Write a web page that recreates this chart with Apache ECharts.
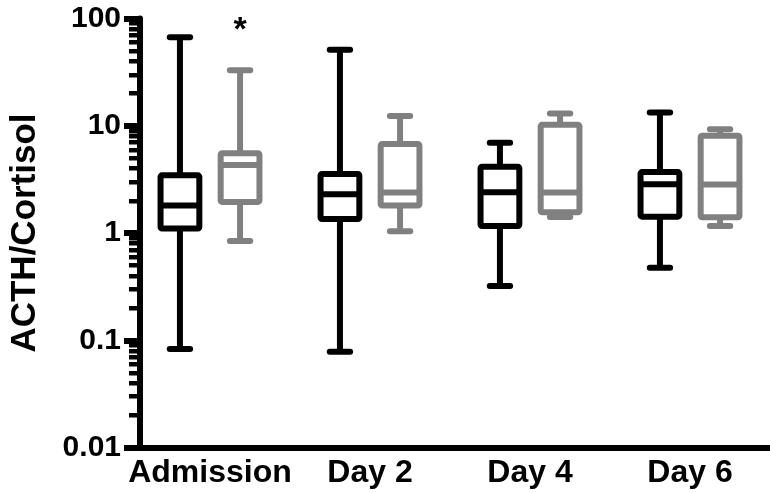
<!DOCTYPE html>
<html>
<head>
<meta charset="utf-8">
<script src="https://cdn.jsdelivr.net/npm/echarts@6/dist/echarts.min.js"></script>
<style>
  html, body { margin: 0; padding: 0; background: #fff; }
  #chart { width: 770px; height: 493px; }
</style>
</head>
<body>
<div id="chart"></div>
<script>
// Time points on the x axis
const categories = ['Admission', 'Day 2', 'Day 4', 'Day 6'];

// Box-and-whisker summaries per time point: [min, Q1, median, Q3, max]
const blackGroup = [
  [0.083, 1.10, 1.80, 3.45, 67],
  [0.078, 1.35, 2.30, 3.55, 51],
  [0.32, 1.16, 2.40, 4.15, 6.95],
  [0.475, 1.42, 2.85, 3.70, 13.3]
];
const grayGroup = [
  [0.84, 1.95, 4.30, 5.55, 33],
  [1.04, 1.80, 2.38, 6.75, 12.3],
  [1.41, 1.56, 2.38, 10.2, 13.0],
  [1.16, 1.40, 2.83, 8.07, 9.3]
];

// Significance marks drawn above the gray boxes
const significance = ['*', '', '', ''];

// Decade ticks of the log axis and the minor ticks within each decade
const yTickLabels = ['0.01', '0.1', '1', '10', '100'];
const minorTickMultipliers = [2, 3, 4, 5, 6, 7, 8, 9];

const FONT = '"Liberation Sans", Arial, Helvetica, sans-serif';
const BLACK = '#000000';
const GRAY = '#808080';

// Geometry, as fractions of one category band
const AXIS_SHIFT = 10;         // y axis line sits right of the grid edge
const PAIR_OFFSET = 31 / 165;  // distance of each box from the band centre
const BOX_HALF = 20 / 165;
const CAP_HALF = 10.5 / 165;
const STROKE = 6;

const minorTicks = [];
yTickLabels.slice(0, -1).forEach(function (lab) {
  minorTickMultipliers.forEach(function (m) {
    minorTicks.push([0, Number(lab) * m]);
  });
});

function boxData(group) {
  return group.map(function (row, i) { return [i].concat(row); });
}

function makeBoxRenderer(color, side, marks) {
  return function (params, api) {
    const cat = api.value(0);
    const band = params.coordSys.width / categories.length;
    const cx = api.coord([cat, 1])[0] + side * band * PAIR_OFFSET;
    const y = function (k) { return api.coord([cat, api.value(k)])[1]; };
    const yMin = y(1), yQ1 = y(2), yMed = y(3), yQ3 = y(4), yMax = y(5);
    const hw = band * BOX_HALF;
    const cw = band * CAP_HALF;
    const capStyle = { stroke: color, lineWidth: STROKE, lineCap: 'round', fill: null };
    const flatStyle = { stroke: color, lineWidth: STROKE, lineCap: 'butt', fill: null };
    const children = [
      { type: 'line', shape: { x1: cx, y1: yQ3, x2: cx, y2: yMax }, style: flatStyle },
      { type: 'line', shape: { x1: cx, y1: yQ1, x2: cx, y2: yMin }, style: flatStyle },
      { type: 'line', shape: { x1: cx - cw, y1: yMax, x2: cx + cw, y2: yMax }, style: capStyle },
      { type: 'line', shape: { x1: cx - cw, y1: yMin, x2: cx + cw, y2: yMin }, style: capStyle },
      { type: 'rect', shape: { x: cx - hw, y: yQ3, width: 2 * hw, height: yQ1 - yQ3, r: 1.5 },
        style: { stroke: color, lineWidth: STROKE, fill: '#ffffff', lineJoin: 'round' } },
      { type: 'line', shape: { x1: cx - hw, y1: yMed, x2: cx + hw, y2: yMed }, style: flatStyle }
    ];
    const mark = marks && marks[params.dataIndex];
    if (mark) {
      children.push({
        type: 'text', x: cx, y: params.coordSys.y + 12,
        style: { text: mark, font: 'bold 34px ' + FONT, fill: BLACK, align: 'center', verticalAlign: 'middle' }
      });
    }
    return { type: 'group', children: children };
  };
}

const chart = echarts.init(document.getElementById('chart'), null, { renderer: 'canvas' });

chart.setOption({
  animation: false,
  backgroundColor: '#ffffff',
  grid: { left: 126.5, top: 18.5, width: 660, height: 429 },
  xAxis: {
    type: 'category',
    data: categories,
    axisLine: { lineStyle: { color: BLACK, width: 6 } },
    axisTick: { show: false },
    axisLabel: { color: BLACK, fontSize: 32, fontWeight: 'bold', fontFamily: FONT, margin: 10, interval: 0 },
    splitLine: { show: false }
  },
  yAxis: {
    type: 'log',
    logBase: 10,
    min: 0.01,
    max: 100,
    offset: -AXIS_SHIFT,
    name: 'ACTH/Cortisol',
    nameLocation: 'middle',
    nameGap: 97,
    nameTextStyle: { color: BLACK, fontSize: 35, fontWeight: 'bold', fontFamily: FONT },
    axisLine: { show: true, lineStyle: { color: BLACK, width: 6 } },
    axisTick: { show: true, length: 16, lineStyle: { color: BLACK, width: 6 } },
    minorTick: { show: false },
    axisLabel: {
      color: BLACK, fontSize: 30, fontWeight: 'bold', fontFamily: FONT, margin: 19,
      formatter: function (v) {
        const idx = Math.round(Math.log10(v)) + 2;
        return yTickLabels[idx] !== undefined ? yTickLabels[idx] : '';
      }
    },
    splitLine: { show: false }
  },
  series: [
    {
      type: 'custom',
      name: 'minor ticks',
      data: minorTicks,
      encode: { x: 0, y: 1 },
      silent: true,
      clip: false,
      z: 5,
      renderItem: function (params, api) {
        const yy = Math.round(api.coord([0, api.value(1)])[1]);
        const x0 = params.coordSys.x + AXIS_SHIFT;
        return { type: 'rect', shape: { x: x0 - 11, y: yy - 2, width: 12, height: 4.5 },
                 style: { fill: BLACK, stroke: null } };
      }
    },
    {
      type: 'custom',
      name: 'black',
      data: boxData(blackGroup),
      encode: { x: 0, y: [1, 2, 3, 4, 5] },
      clip: false,
      renderItem: makeBoxRenderer(BLACK, -1, null)
    },
    {
      type: 'custom',
      name: 'gray',
      data: boxData(grayGroup),
      encode: { x: 0, y: [1, 2, 3, 4, 5] },
      clip: false,
      renderItem: makeBoxRenderer(GRAY, 1, significance)
    }
  ]
});
</script>
</body>
</html>
